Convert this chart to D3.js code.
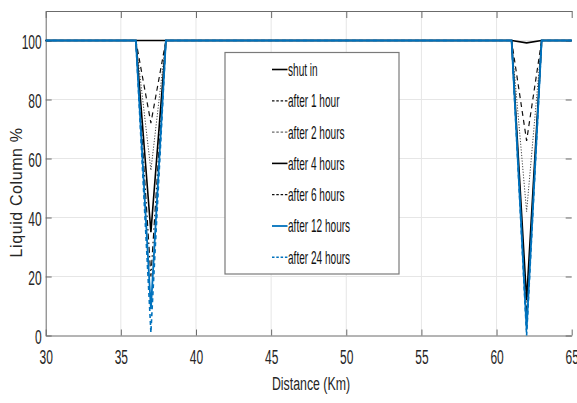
<!DOCTYPE html>
<html>
<head>
<meta charset="utf-8">
<script src="https://cdn.jsdelivr.net/npm/d3@7"></script>
<style>
  body { margin: 0; background: #fff; }
  svg { display: block; font-family: 'Liberation Sans', Arial, sans-serif; }
</style>
</head>
<body>
<svg id="canvas"></svg>
<script>
// distance points (km) where the profiles are sampled
let distance = [30, 36, 37, 38, 61, 62, 63, 65]

let shutIn   = [100, 100, 100, 100, 100, 99.2, 100, 100]
let after1h  = [100, 100, 72, 100, 100, 66, 100, 100]
let after2h  = [100, 100, 56, 100, 100, 42, 100, 100]
let after4h  = [100, 100, 35, 100, 100, 12, 100, 100]
let after6h  = [100, 100, 20, 100, 100, 7, 100, 100]
let after12h = [100, 100, 9, 100, 100, 2, 100, 100]
let after24h = [100, 100, 1, 100, 100, 0, 100, 100]

let seriesNames = ['shut in', 'after 1 hour', 'after 2 hours', 'after 4 hours', 'after 6 hours', 'after 12 hours', 'after 24 hours']

let xTicks = [30, 35, 40, 45, 50, 55, 60, 65]
let yTicks = [0, 20, 40, 60, 80, 100]

let width = 577
let height = 403
let plotLeft = 45.7
let plotRight = 571.7
let plotTop = 11
let plotBottom = 335.5
let squeeze = 0.6   // the picture is narrow, text looks condensed

let blue = '#0072bd'

let styles = [
    { color: '#000', dash: null, w: 1.6 },
    { color: '#111', dash: '5,4', w: 1.2 },
    { color: '#444', dash: '1.2,1.6', w: 1 },
    { color: '#000', dash: null, w: 1.6 },
    { color: '#111', dash: '6,3,1.5,3', w: 1.2 },
    { color: blue, dash: null, w: 1.8 },
    { color: blue, dash: '4,3', w: 1.6 }
]

let canvas = d3.select('#canvas')
    .attr('width', width)
    .attr('height', height)

let xScale = d3.scaleLinear().domain([30, 65]).range([plotLeft, plotRight])
let yScale = d3.scaleLinear().domain([0, 110]).range([plotBottom, plotTop])

// grid
canvas.append('g')
    .selectAll('line')
    .data(xTicks.slice(1, -1))
    .enter()
    .append('line')
    .attr('x1', (d) => xScale(d))
    .attr('x2', (d) => xScale(d))
    .attr('y1', plotTop)
    .attr('y2', plotBottom)
    .attr('stroke', '#e6e6e6')
    .attr('stroke-width', 1)

canvas.append('g')
    .selectAll('line')
    .data(yTicks.slice(1))
    .enter()
    .append('line')
    .attr('x1', plotLeft)
    .attr('x2', plotRight)
    .attr('y1', (d) => yScale(d))
    .attr('y2', (d) => yScale(d))
    .attr('stroke', '#e6e6e6')
    .attr('stroke-width', 1)

// axes
let xAxis = d3.axisBottom(xScale)
    .tickValues(xTicks)
    .tickSizeInner(-6)
    .tickSizeOuter(0)
    .tickPadding(14)
    .tickFormat(d3.format('d'))

let gx = canvas.append('g')
    .attr('transform', `translate(0, ${plotBottom})`)
    .call(xAxis)

let yAxis = d3.axisLeft(yScale)
    .tickValues(yTicks)
    .tickSizeInner(-6)
    .tickSizeOuter(0)
    .tickPadding(4)
    .tickFormat(d3.format('d'))

let gy = canvas.append('g')
    .attr('transform', `translate(${plotLeft}, 0)`)
    .call(yAxis)

// top border with ticks
let xTop = d3.axisTop(xScale).tickValues(xTicks).tickSizeInner(-7).tickSizeOuter(0).tickFormat('')
canvas.append('g').attr('transform', `translate(0, ${plotTop})`).call(xTop)

let yRight = d3.axisRight(yScale).tickValues(yTicks).tickSizeInner(-6).tickSizeOuter(0).tickFormat('')
let gr = canvas.append('g').attr('transform', `translate(${plotRight}, 0)`).call(yRight)
gr.select('.domain').remove()

canvas.selectAll('.domain').attr('stroke', '#6b6b6b')
canvas.selectAll('.tick line').attr('stroke', '#6b6b6b')

gx.selectAll('text')
    .attr('font-size', 20)
    .attr('fill', '#262626')
    .attr('transform', `scale(${squeeze},1)`)

gy.selectAll('text')
    .attr('font-size', 20)
    .attr('fill', '#262626')
    .attr('x', -4 / squeeze)
    .attr('dy', '0.4em')
    .attr('transform', `scale(${squeeze},1)`)

// series lines
let allSeries = [shutIn, after1h, after2h, after4h, after6h, after12h, after24h]

let line = d3.line()
    .x((d, i) => xScale(distance[i]))
    .y((d) => yScale(d))

canvas.append('g')
    .selectAll('path')
    .data(allSeries)
    .enter()
    .append('path')
    .attr('d', (d) => line(d))
    .attr('fill', 'none')
    .attr('stroke', (d, i) => styles[i].color)
    .attr('stroke-width', (d, i) => styles[i].w)
    .attr('stroke-dasharray', (d, i) => styles[i].dash)
    .attr('stroke-linejoin', 'miter')

// legend
let legend = canvas.append('g')

legend.append('rect')
    .attr('x', 225)
    .attr('y', 52.5)
    .attr('width', 174)
    .attr('height', 221.5)
    .attr('fill', '#fff')
    .attr('stroke', '#7a7a7a')
    .attr('stroke-width', 1.2)

let rows = legend.selectAll('.row')
    .data(seriesNames)
    .enter()
    .append('g')
    .attr('class', 'row')
    .attr('transform', (d, i) => `translate(0, ${69.5 + i * 31.3})`)

rows.append('line')
    .attr('x1', 272)
    .attr('x2', 287.5)
    .attr('stroke', (d, i) => styles[i].color)
    .attr('stroke-width', (d, i) => styles[i].w)
    .attr('stroke-dasharray', (d, i) => styles[i].dash ? '2.5,1.8' : null)

rows.append('text')
    .attr('transform', `translate(288, 0) scale(0.56,1)`)
    .attr('dy', '0.36em')
    .attr('font-size', 18)
    .attr('fill', '#111')
    .text((d) => d)

// axis titles
canvas.append('text')
    .attr('transform', `translate(311, 390) scale(0.65,1)`)
    .attr('text-anchor', 'middle')
    .attr('font-size', 19)
    .attr('fill', '#262626')
    .text('Distance (Km)')

canvas.append('text')
    .attr('transform', `translate(22, 192.5) rotate(-90)`)
    .attr('text-anchor', 'middle')
    .attr('font-size', 16)
    .attr('letter-spacing', 0.6)
    .attr('fill', '#262626')
    .text('Liquid Column %')
</script>
</body>
</html>
